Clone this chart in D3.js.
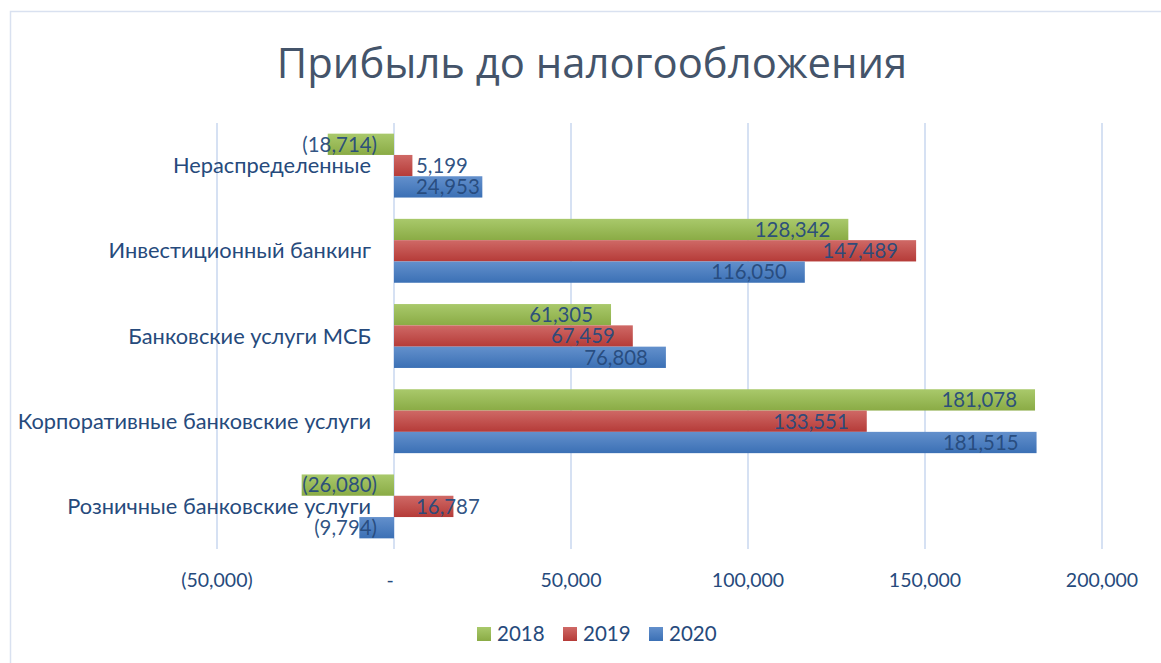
<!DOCTYPE html>
<html>
<head>
<meta charset="utf-8">
<script src="https://cdn.jsdelivr.net/npm/d3@7"></script>
<style>
  body { margin: 0; background: #fff; }
  svg { display: block; }
</style>
</head>
<body>
<div id="chart"></div>
<script>
// ── data ──
const categories = ["Нераспределенные", "Инвестиционный банкинг", "Банковские услуги МСБ",
  "Корпоративные банковские услуги", "Розничные банковские услуги"];
const years = ["2018", "2019", "2020"];
const values2018 = [-18714, 128342, 61305, 181078, -26080];
const values2019 = [5199, 147489, 67459, 133551, 16787];
const values2020 = [24953, 116050, 76808, 181515, -9794];
const tickValues = [-50000, 0, 50000, 100000, 150000, 200000];
const title = "Прибыль до налогообложения";

const seriesValues = [values2018, values2019, values2020];
const colors = {
  "2018": ["#a9c96b", "#8aab45"],
  "2019": ["#cf6966", "#b53b38"],
  "2020": ["#6390cc", "#3b70b5"]
};

const W = 1161, H = 663;
const margin = { top: 123, right: 59, bottom: 114, left: 217 };
const textColor = "#264a7c";
const font = "Lato, 'Open Sans', sans-serif";

const svg = d3.select("#chart").append("svg")
  .attr("width", W).attr("height", H)
  .style("font-family", font);

/* gradients for bars and legend */
const defs = svg.append("defs");
years.forEach(y => {
  const g = defs.append("linearGradient")
    .attr("id", "grad" + y)
    .attr("x1", 0).attr("y1", 0).attr("x2", 0).attr("y2", 1);
  g.append("stop").attr("offset", "0%").attr("stop-color", colors[y][0]);
  g.append("stop").attr("offset", "100%").attr("stop-color", colors[y][1]);
});

/* chart border */
svg.append("rect")
  .attr("x", 10.5).attr("y", 11.5)
  .attr("width", W + 10).attr("height", H + 10)
  .attr("fill", "none").attr("stroke", "#d9e1f0").attr("stroke-width", 1.5);

/* title */
svg.append("text")
  .attr("x", 592).attr("y", 78)
  .attr("text-anchor", "middle")
  .attr("fill", "#44546a")
  .style("font-size", "41.8px")
  .style("font-family", "'Open Sans', sans-serif")
  .style("font-weight", 400)
  .text(title);

const x = d3.scaleLinear()
  .domain([-50000, 200000])
  .range([margin.left, W - margin.right]);

const y0 = d3.scaleBand()
  .domain(categories)
  .range([margin.top, H - margin.bottom])
  .paddingInner(0.25)
  .paddingOuter(0.125);

const y1 = d3.scaleBand()
  .domain(years)
  .range([0, y0.bandwidth()]);

/* gridlines */
svg.append("g")
  .selectAll("line")
  .data(tickValues)
  .join("line")
  .attr("x1", d => x(d)).attr("x2", d => x(d))
  .attr("y1", margin.top).attr("y2", H - margin.bottom)
  .attr("stroke", "#d6e1f3").attr("stroke-width", 2);

/* tick labels */
const fmt = d => d === 0 ? "-" : d < 0 ? "(" + d3.format(",")(-d) + ")" : d3.format(",")(d);
svg.append("g")
  .selectAll("text")
  .data(tickValues)
  .join("text")
  .attr("x", d => x(d) + (d === 0 ? -4 : 0))
  .attr("y", 587)
  .attr("text-anchor", "middle")
  .attr("fill", textColor)
  .style("font-size", "19.5px")
  .text(fmt);

/* bars */
const flat = [];
categories.forEach((c, i) => {
  years.forEach((yr, k) => flat.push({ cat: c, year: yr, value: seriesValues[k][i] }));
});

svg.append("g")
  .selectAll("rect")
  .data(flat)
  .join("rect")
  .attr("x", d => x(Math.min(0, d.value)))
  .attr("y", d => y0(d.cat) + y1(d.year))
  .attr("width", d => Math.abs(x(d.value) - x(0)))
  .attr("height", y1.bandwidth())
  .attr("fill", d => `url(#grad${d.year})`);

/* category labels */
svg.append("g")
  .selectAll("text")
  .data(categories)
  .join("text")
  .attr("x", x(0) - 23)
  .attr("y", d => y0(d) + y0.bandwidth() / 2)
  .attr("dy", "0.35em")
  .attr("text-anchor", "end")
  .attr("fill", textColor)
  .style("font-size", "21.8px")
  .text(d => d);

/* data labels (inside end, clamped near zero) */
const labels = svg.append("g")
  .selectAll("text")
  .data(flat)
  .join("text")
  .attr("y", d => y0(d.cat) + y1(d.year) + y1.bandwidth() / 2)
  .attr("dy", "0.36em")
  .attr("fill", textColor)
  .attr("fill-opacity", 0.95)
  .style("font-size", "20.4px")
  .text(d => fmt(d.value));

labels.each(function(d) {
  const w = this.getComputedTextLength();
  const z = x(0);
  let left;
  if (d.value >= 0) {
    left = Math.max(x(d.value) - 18 - w, z + 22);
  } else {
    left = Math.min(x(d.value) + 18, z - 17 - w);
  }
  d3.select(this).attr("x", left);
});

/* legend */
const legendItems = [
  { year: "2018", x: 477 },
  { year: "2019", x: 563 },
  { year: "2020", x: 649 }
];
const lg = svg.append("g")
  .selectAll("g")
  .data(legendItems)
  .join("g")
  .attr("transform", d => `translate(${d.x},627)`);
lg.append("rect")
  .attr("width", 14).attr("height", 14)
  .attr("fill", d => `url(#grad${d.year})`);
lg.append("text")
  .attr("x", 20).attr("y", 7)
  .attr("dy", "0.36em")
  .attr("fill", textColor)
  .style("font-size", "20.5px")
  .text(d => d.year);
</script>
</body>
</html>
